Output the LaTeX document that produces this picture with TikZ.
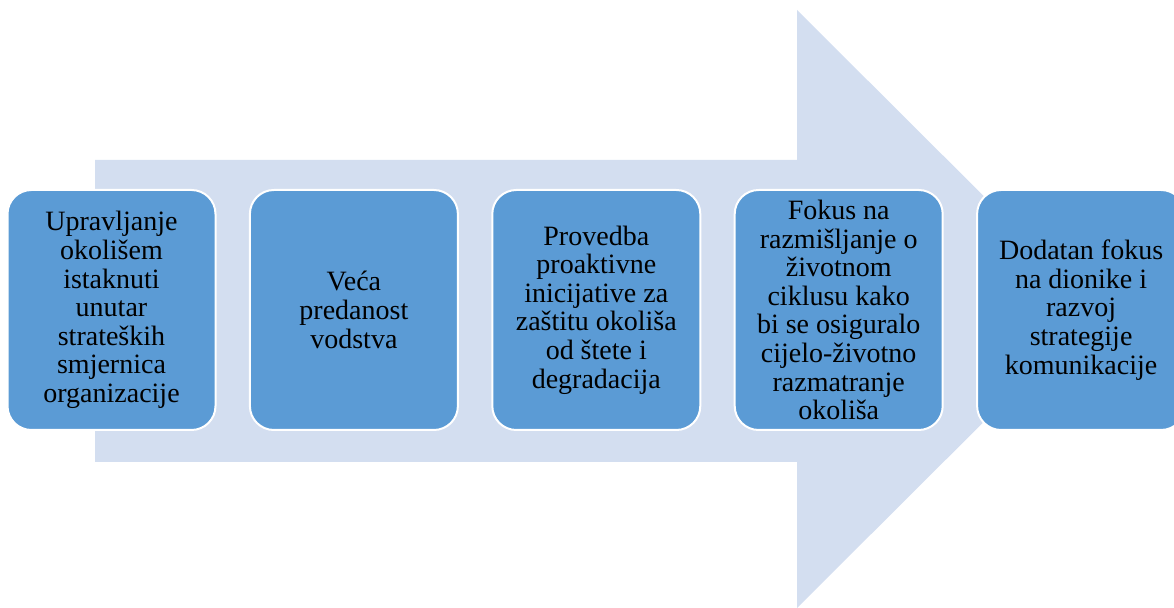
\documentclass[tikz,border=0pt]{standalone}
\usepackage{fontspec}
\setmainfont{Liberation Serif}
\usepackage{tikz}
\usetikzlibrary{positioning}
\definecolor{arrowblue}{HTML}{D3DEF0}
\definecolor{boxblue}{HTML}{5B9BD5}
\tikzset{
	phase/.style={
		draw=white, line width=1pt, fill=boxblue, rounded corners=12pt,
		minimum width=104pt, minimum height=120pt, inner sep=0pt,
		align=center, font=\rmfamily\fontsize{14}{14.3}\selectfont
	},
	bigarrow/.style={
		fill=arrowblue, draw=none
	}
}

\begin{document}
\begin{tikzpicture}[x=0.5pt, y=-0.5pt, node distance=16.2pt]
    \path[use as bounding box] (0,0) rectangle (1174,608);
    \clip (0,0) rectangle (1174,608);
    % background arrow
    \fill[bigarrow] (95,160) -- (797,160) -- (797,10) -- (1097,309) -- (797,608) -- (797,462) -- (95,462) -- cycle;

    \node[phase] (Upravljanje) at (111.5,310) {Upravljanje\\okolišem\\istaknuti\\unutar\\strateških\\smjernica\\organizacije};
    \node[phase, right=of Upravljanje] (Vodstvo) {Veća\\predanost\\vodstva};
    \node[phase, right=of Vodstvo] (Provedba) {Provedba\\proaktivne\\inicijative za\\zaštitu okoliša\\od štete i\\degradacija};
    \node[phase, right=of Provedba] (Ciklus) {Fokus na\\razmišljanje o\\životnom\\ciklusu kako\\bi se osiguralo\\cijelo-životno\\razmatranje\\okoliša};
    \node[phase, right=of Ciklus] (Dionici) {Dodatan fokus\\na dionike i\\razvoj\\strategije\\komunikacije};
\end{tikzpicture}
\end{document}
